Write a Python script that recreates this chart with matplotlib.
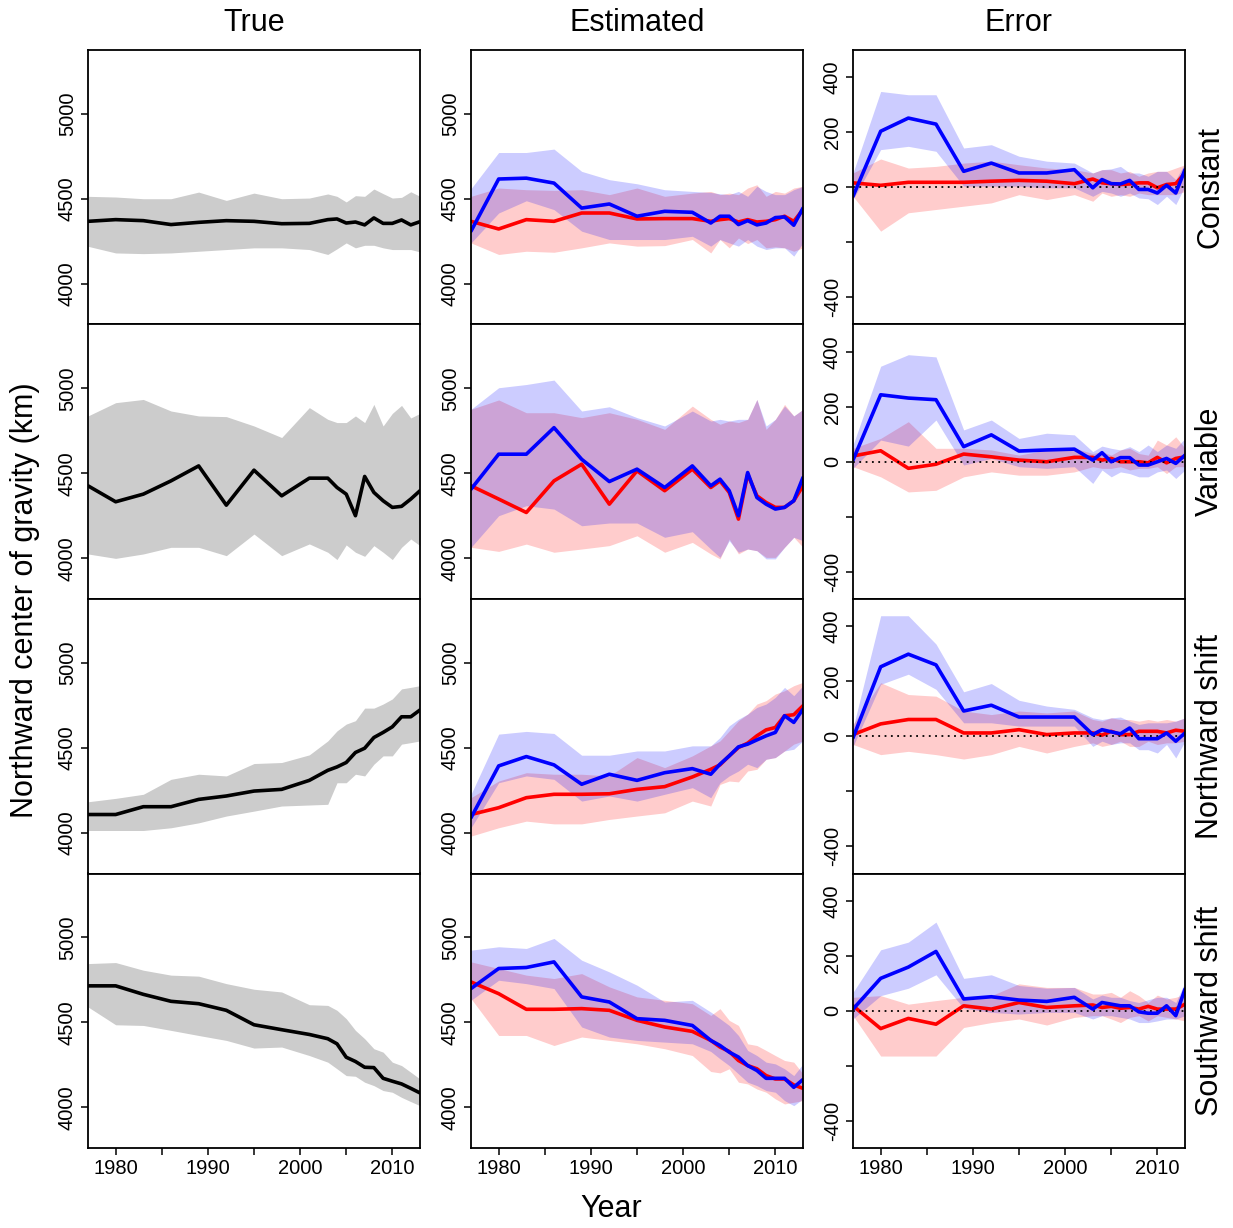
import matplotlib.pyplot as plt

plt.rcParams['font.family'] = ['Liberation Sans', 'DejaVu Sans']
plt.rcParams['lines.solid_joinstyle'] = 'round'
plt.rcParams['lines.solid_capstyle'] = 'round'

years = [1977, 1980, 1983, 1986, 1989, 1992, 1995, 1998, 2001, 2003,
         2004, 2005, 2006, 2007, 2008, 2009, 2010, 2011, 2012, 2013]

scenarios = ["Constant", "Variable", "Northward shift", "Southward shift"]
col_titles = ["True", "Estimated", "Error"]

# ---- Constant ----
const_true = [4368, 4378, 4372, 4349, 4362, 4372, 4368, 4354, 4356, 4378, 4382, 4358, 4364, 4347, 4388, 4356, 4356, 4376, 4347, 4366]
const_true_hi = [4515, 4511, 4501, 4501, 4540, 4491, 4534, 4501, 4505, 4529, 4515, 4482, 4519, 4515, 4558, 4531, 4505, 4509, 4542, 4515]
const_true_lo = [4221, 4182, 4178, 4182, 4192, 4202, 4212, 4212, 4202, 4173, 4206, 4241, 4212, 4227, 4227, 4212, 4202, 4202, 4202, 4188]
const_red = [4368, 4323, 4378, 4368, 4417, 4417, 4382, 4384, 4384, 4368, 4378, 4384, 4364, 4378, 4364, 4368, 4378, 4398, 4368, 4437]
const_red_hi = [4515, 4564, 4554, 4550, 4554, 4525, 4564, 4515, 4534, 4544, 4525, 4534, 4525, 4564, 4583, 4515, 4544, 4534, 4564, 4574]
const_red_lo = [4241, 4173, 4192, 4186, 4212, 4241, 4222, 4225, 4261, 4182, 4261, 4212, 4270, 4237, 4261, 4212, 4218, 4212, 4192, 4212]
const_blue = [4310, 4617, 4622, 4593, 4446, 4470, 4398, 4427, 4421, 4358, 4398, 4398, 4349, 4372, 4347, 4358, 4390, 4394, 4345, 4446]
const_blue_hi = [4560, 4773, 4773, 4793, 4662, 4613, 4589, 4554, 4544, 4538, 4530, 4525, 4544, 4515, 4574, 4544, 4525, 4525, 4554, 4574]
const_blue_lo = [4241, 4417, 4489, 4437, 4310, 4261, 4261, 4261, 4280, 4222, 4261, 4241, 4222, 4261, 4222, 4202, 4212, 4212, 4163, 4241]
const_err_red = [16, 7, 18, 18, 18, 22, 25, 22, 13, 30, 16, 13, 10, 12, 16, 16, -2, 10, 13, 52]
const_err_red_hi = [52, 103, 70, 76, 88, 95, 82, 70, 64, 52, 64, 64, 52, 58, 40, 52, 58, 58, 70, 82]
const_err_red_lo = [-33, -160, -93, -81, -69, -57, -27, -45, -27, -51, -21, -33, -27, -33, -21, -27, -27, -27, -27, -15]
const_err_blue = [-33, 204, 252, 230, 58, 88, 52, 52, 64, -2, 28, 13, 12, 25, -8, -8, -21, 7, -21, 64]
const_err_blue_hi = [52, 349, 337, 337, 143, 155, 113, 95, 88, 52, 64, 67, 76, 52, 52, 40, 58, 58, 28, 88]
const_err_blue_lo = [-45, 137, 149, 131, 4, 4, 4, -2, -2, -33, -15, -21, -33, -21, -39, -42, -63, -33, -63, 4]

# ---- Variable ----
var_true = [4427, 4333, 4378, 4456, 4544, 4313, 4519, 4368, 4472, 4472, 4417, 4378, 4251, 4482, 4388, 4339, 4300, 4306, 4349, 4398]
var_true_hi = [4838, 4916, 4935, 4867, 4838, 4834, 4779, 4711, 4887, 4818, 4799, 4799, 4838, 4799, 4906, 4779, 4853, 4900, 4826, 4853]
var_true_lo = [4026, 4000, 4026, 4065, 4065, 4016, 4143, 4016, 4085, 4036, 3993, 4079, 4036, 4012, 4075, 4036, 3993, 4065, 4114, 4075]
var_red = [4427, 4349, 4270, 4456, 4554, 4319, 4515, 4398, 4525, 4417, 4456, 4388, 4231, 4495, 4368, 4329, 4300, 4300, 4339, 4427]
var_red_hi = [4877, 4932, 4857, 4857, 4828, 4857, 4818, 4759, 4896, 4818, 4789, 4808, 4799, 4818, 4935, 4759, 4818, 4906, 4838, 4877]
var_red_lo = [4065, 4041, 4084, 4036, 4055, 4075, 4133, 4036, 4094, 4026, 3997, 4114, 4026, 4055, 4045, 4006, 4006, 4065, 4124, 4065]
var_blue = [4407, 4613, 4613, 4769, 4583, 4452, 4525, 4417, 4544, 4427, 4466, 4398, 4251, 4505, 4358, 4319, 4290, 4300, 4339, 4476]
var_blue_hi = [4877, 5004, 5023, 5049, 4867, 4892, 4828, 4779, 4867, 4808, 4818, 4808, 4818, 4818, 4935, 4779, 4818, 4896, 4838, 4877]
var_blue_lo = [4065, 4251, 4310, 4290, 4192, 4208, 4208, 4124, 4157, 4055, 4006, 4104, 4036, 4055, 4045, 3997, 3997, 4065, 4124, 4104]
var_err_red = [21, 40, -24, -9, 28, 18, 6, 0, 16, 16, 6, 12, 0, 0, 0, -4, 16, -4, 12, 18]
var_err_red_hi = [49, 85, 146, 49, 49, 43, 24, 43, 49, 30, 37, 24, 43, 49, 30, 24, 79, 61, 91, 49]
var_err_red_lo = [-18, -55, -110, -104, -55, -37, -49, -49, -37, -18, -24, -24, -18, -30, -24, -24, -18, -43, -18, -18]
var_err_blue = [6, 244, 232, 226, 55, 98, 39, 43, 46, 6, 33, 0, 15, 15, -12, -12, 0, 12, -6, 24]
var_err_blue_hi = [61, 348, 390, 382, 116, 152, 85, 104, 98, 37, 57, 49, 43, 55, 37, 61, 37, 61, 49, 85]
var_err_blue_lo = [-24, 79, 57, 152, -12, 12, -18, -24, -18, -79, -30, -55, -37, -43, -55, -55, -37, -30, -61, -30]

# ---- Northward shift ----
north_true = [4108, 4108, 4154, 4154, 4197, 4217, 4246, 4256, 4309, 4368, 4388, 4414, 4473, 4498, 4561, 4591, 4624, 4683, 4683, 4723]
north_true_hi = [4183, 4203, 4227, 4315, 4345, 4335, 4408, 4414, 4459, 4541, 4600, 4640, 4660, 4734, 4734, 4758, 4788, 4847, 4856, 4866]
north_true_lo = [4014, 4014, 4014, 4030, 4059, 4099, 4128, 4158, 4164, 4168, 4295, 4295, 4345, 4335, 4404, 4453, 4453, 4522, 4531, 4541]
north_red = [4108, 4148, 4207, 4227, 4227, 4230, 4256, 4272, 4329, 4374, 4400, 4453, 4502, 4528, 4571, 4606, 4620, 4689, 4695, 4748]
north_red_hi = [4207, 4305, 4354, 4345, 4345, 4335, 4443, 4384, 4453, 4512, 4541, 4600, 4660, 4699, 4758, 4778, 4817, 4836, 4866, 4886]
north_red_lo = [3981, 4030, 4069, 4053, 4053, 4079, 4099, 4118, 4187, 4158, 4285, 4305, 4300, 4364, 4374, 4433, 4443, 4482, 4522, 4541]
north_blue = [4089, 4394, 4449, 4400, 4286, 4345, 4309, 4354, 4378, 4345, 4404, 4453, 4506, 4522, 4547, 4571, 4591, 4689, 4650, 4728]
north_blue_hi = [4227, 4581, 4597, 4585, 4457, 4457, 4482, 4482, 4512, 4512, 4561, 4630, 4669, 4699, 4738, 4758, 4797, 4856, 4807, 4866]
north_blue_lo = [4030, 4295, 4335, 4315, 4187, 4217, 4187, 4227, 4266, 4207, 4295, 4335, 4364, 4404, 4384, 4433, 4443, 4482, 4492, 4541]
north_err_red = [6, 45, 61, 61, 12, 12, 24, 6, 12, 12, 4, 18, 6, 6, 18, 18, 18, 12, 22, 18]
north_err_red_hi = [43, 195, 152, 146, 92, 79, 92, 85, 92, 61, 55, 67, 61, 61, 55, 61, 55, 61, 55, 67]
north_err_red_lo = [-30, -67, -55, -67, -83, -67, -37, -61, -37, -24, -37, -30, -18, -37, -37, -18, -30, -24, -24, -18]
north_err_blue = [-6, 253, 299, 260, 92, 113, 70, 70, 70, 6, 24, 16, 9, 30, -9, -9, -9, 12, -18, 12]
north_err_blue_hi = [30, 439, 439, 336, 162, 192, 131, 110, 98, 67, 61, 67, 70, 55, 43, 49, 49, 49, 55, 67]
north_err_blue_lo = [-37, 189, 226, 171, 49, 49, 37, 37, 37, -37, -18, -30, -24, -24, -49, -49, -61, -30, -79, -18]

# ---- Southward shift ----
south_true = [4715, 4715, 4665, 4624, 4610, 4571, 4486, 4457, 4429, 4404, 4374, 4295, 4270, 4236, 4234, 4171, 4154, 4138, 4112, 4085]
south_true_hi = [4846, 4852, 4807, 4778, 4772, 4728, 4695, 4679, 4604, 4600, 4571, 4522, 4453, 4404, 4345, 4325, 4266, 4246, 4207, 4167]
south_true_lo = [4591, 4486, 4482, 4453, 4423, 4394, 4349, 4355, 4305, 4266, 4227, 4187, 4183, 4148, 4128, 4099, 4089, 4059, 4034, 4010]
south_red = [4738, 4669, 4577, 4577, 4581, 4571, 4512, 4473, 4447, 4394, 4355, 4329, 4276, 4246, 4227, 4187, 4167, 4167, 4132, 4112]
south_red_hi = [4856, 4817, 4778, 4758, 4787, 4709, 4650, 4630, 4610, 4541, 4581, 4512, 4482, 4374, 4364, 4335, 4305, 4276, 4266, 4197]
south_red_lo = [4640, 4423, 4423, 4364, 4414, 4394, 4374, 4345, 4305, 4211, 4203, 4227, 4148, 4138, 4108, 4089, 4050, 4020, 4030, 4040]
south_blue = [4699, 4817, 4823, 4856, 4650, 4620, 4522, 4512, 4482, 4394, 4364, 4325, 4296, 4246, 4217, 4171, 4171, 4171, 4118, 4164]
south_blue_hi = [4925, 4945, 4935, 4994, 4866, 4797, 4719, 4620, 4630, 4561, 4522, 4482, 4423, 4335, 4305, 4266, 4256, 4227, 4187, 4256]
south_blue_lo = [4630, 4748, 4728, 4699, 4473, 4414, 4394, 4384, 4374, 4329, 4286, 4246, 4197, 4148, 4128, 4099, 4089, 4040, 4010, 4050]
south_err_red = [18, -65, -28, -49, 18, 6, 30, 12, 18, 21, 12, 16, 9, 12, 6, 16, 6, 6, 6, 24]
south_err_red_hi = [49, 55, 24, 37, 49, 55, 98, 85, 85, 61, 61, 67, 49, 73, 55, 30, 57, 43, 49, 61]
south_err_red_lo = [-18, -165, -165, -165, -61, -43, -30, -52, -24, -18, -18, -30, -43, -24, -18, -37, -18, -24, -30, -37]
south_err_blue = [6, 118, 159, 216, 43, 51, 39, 34, 49, 6, 30, 24, 18, 18, -4, -9, -9, 18, -18, 79]
south_err_blue_hi = [67, 222, 250, 323, 118, 131, 92, 82, 85, 43, 57, 49, 49, 37, 30, 40, 49, 49, 30, 104]
south_err_blue_lo = [-30, 55, 82, 131, 9, -6, -12, -6, -6, -30, -18, -18, -24, -30, -43, -43, -37, -30, -30, -18]

rows = [
    (const_true, const_true_lo, const_true_hi,
     const_red, const_red_lo, const_red_hi, const_blue, const_blue_lo, const_blue_hi,
     const_err_red, const_err_red_lo, const_err_red_hi, const_err_blue, const_err_blue_lo, const_err_blue_hi),
    (var_true, var_true_lo, var_true_hi,
     var_red, var_red_lo, var_red_hi, var_blue, var_blue_lo, var_blue_hi,
     var_err_red, var_err_red_lo, var_err_red_hi, var_err_blue, var_err_blue_lo, var_err_blue_hi),
    (north_true, north_true_lo, north_true_hi,
     north_red, north_red_lo, north_red_hi, north_blue, north_blue_lo, north_blue_hi,
     north_err_red, north_err_red_lo, north_err_red_hi, north_err_blue, north_err_blue_lo, north_err_blue_hi),
    (south_true, south_true_lo, south_true_hi,
     south_red, south_red_lo, south_red_hi, south_blue, south_blue_lo, south_blue_hi,
     south_err_red, south_err_red_lo, south_err_red_hi, south_err_blue, south_err_blue_lo, south_err_blue_hi),
]

W, H = 1233, 1228
fig = plt.figure(figsize=(W / 100, H / 100), dpi=100)

col_left = [88, 471, 853]
col_w = 332
row_top = [50, 324.5, 599, 873.5]
row_h = 274.5

red_band = (1, 0, 0, 0.2)
blue_band = (0, 0, 1, 0.2)
lw = 2.6
tick_fs = 14.5
big_fs = 22


def style_axis(ax, bottom_row, err):
    ax.set_xlim(1977, 2013)
    for s in ax.spines.values():
        s.set_linewidth(1.3)
    ax.tick_params(direction='out', length=5, width=1.1, labelsize=tick_fs, pad=3)
    if err:
        ax.set_ylim(-500, 500)
        ax.set_yticks([-400, -200, 0, 200, 400])
        ax.set_yticklabels(['-400', '', '0', '200', '400'], rotation=90, va='center')
    else:
        ax.set_ylim(3761, 5376)
        ax.set_yticks([4000, 4500, 5000])
        ax.set_yticklabels(['4000', '4500', '5000'], rotation=90, va='center')
    if bottom_row:
        ax.set_xticks([1980, 1985, 1990, 1995, 2000, 2005, 2010])
        ax.set_xticklabels(['1980', '', '1990', '', '2000', '', '2010'])
    else:
        ax.set_xticks([])


for r, d in enumerate(rows):
    (tr, tr_lo, tr_hi, er, er_lo, er_hi, eb, eb_lo, eb_hi,
     xr, xr_lo, xr_hi, xb, xb_lo, xb_hi) = d
    axes = []
    for c in range(3):
        ax = fig.add_axes([col_left[c] / W, 1 - (row_top[r] + row_h) / H, col_w / W, row_h / H])
        axes.append(ax)

    # True
    ax = axes[0]
    ax.fill_between(years, tr_lo, tr_hi, color='#CCCCCC', lw=0)
    ax.plot(years, tr, color='black', lw=lw)
    style_axis(ax, r == 3, False)

    # Estimated
    ax = axes[1]
    ax.fill_between(years, er_lo, er_hi, color=red_band, lw=0)
    ax.plot(years, er, color='red', lw=lw)
    ax.fill_between(years, eb_lo, eb_hi, color=blue_band, lw=0)
    ax.plot(years, eb, color='blue', lw=lw)
    style_axis(ax, r == 3, False)

    # Error
    ax = axes[2]
    ax.fill_between(years, xr_lo, xr_hi, color=red_band, lw=0)
    ax.plot(years, xr, color='red', lw=lw)
    ax.fill_between(years, xb_lo, xb_hi, color=blue_band, lw=0)
    ax.axhline(0, color='black', ls=(0, (1, 2.5)), lw=1.3)
    ax.plot(years, xb, color='blue', lw=lw)
    style_axis(ax, r == 3, True)

    fig.text(1210 / W, 1 - (row_top[r] + row_h / 2) / H, scenarios[r],
             rotation=90, ha='center', va='center', fontsize=big_fs)

for c, t in enumerate(col_titles):
    fig.text((col_left[c] + col_w / 2) / W, 1 - 23 / H, t, ha='center', va='center', fontsize=big_fs)

fig.text(25 / W, 1 - 600 / H, 'Northward center of gravity (km)', rotation=90,
         ha='center', va='center', fontsize=big_fs)
fig.text(611 / W, 1 - 1209 / H, 'Year', ha='center', va='center', fontsize=big_fs)

fig.savefig('out.png', dpi=100)
